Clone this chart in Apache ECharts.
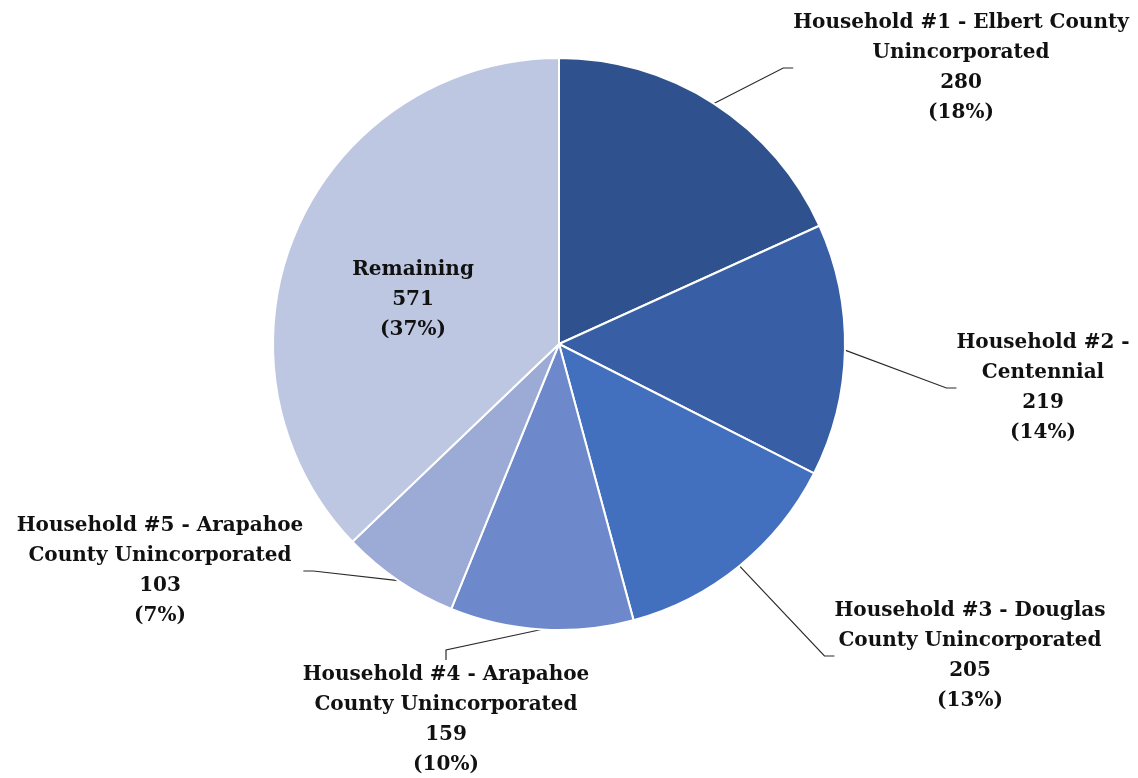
<!DOCTYPE html>
<html>
<head>
<meta charset="utf-8">
<script src="https://cdn.jsdelivr.net/npm/echarts@6/dist/echarts.min.js"></script>
<style>
html,body{margin:0;padding:0;background:#fff;}
#chart{width:1138px;height:778px;}
</style>
</head>
<body>
<div id="chart"></div>
<script>
const categories = [
  'Household #1 - Elbert County\nUnincorporated',
  'Household #2 -\nCentennial',
  'Household #3 - Douglas\nCounty Unincorporated',
  'Household #4 - Arapahoe\nCounty Unincorporated',
  'Household #5 - Arapahoe\nCounty Unincorporated',
  'Remaining'
];
const values = [280, 219, 205, 159, 103, 571];
const colors = ['#2F528F', '#385EA5', '#4270BE', '#6E89CB', '#9CAAD6', '#BEC7E2'];

// label block centres (px)
const labelPos = [
  [961, 68],
  [1043, 388],
  [970, 656],
  [446, 720],
  [160, 571],
  [413, 300]
];

const chart = echarts.init(document.getElementById('chart'));
const total = values.reduce((a, b) => a + b, 0);

chart.setOption({
  animation: false,
  series: [{
    type: 'pie',
    center: [559, 344],
    radius: [0, 286],
    startAngle: 90,
    clockwise: true,
    avoidLabelOverlap: false,
    itemStyle: { borderColor: '#ffffff', borderWidth: 2 },
    label: {
      show: true,
      position: 'outside',
      fontFamily: 'DejaVu Serif',
      fontWeight: 'bold',
      fontSize: 20,
      lineHeight: 30,
      color: '#111111',
      align: 'center',
      formatter: p => p.name + '\n' + p.value + '\n(' + Math.round(p.value / total * 100) + '%)'
    },
    labelLine: {
      show: true,
      length: 10,
      length2: 10,
      lineStyle: { color: '#2b2b2b', width: 1.2 }
    },
    labelLayout: function (params) {
      const pos = labelPos[params.dataIndex];
      return { x: pos[0], y: pos[1], align: 'center', verticalAlign: 'middle' };
    },
    data: categories.map((c, i) => ({
      name: c,
      value: values[i],
      itemStyle: { color: colors[i] },
      labelLine: i === 5 ? { show: false } : undefined
    }))
  }]
});
</script>
</body>
</html>
